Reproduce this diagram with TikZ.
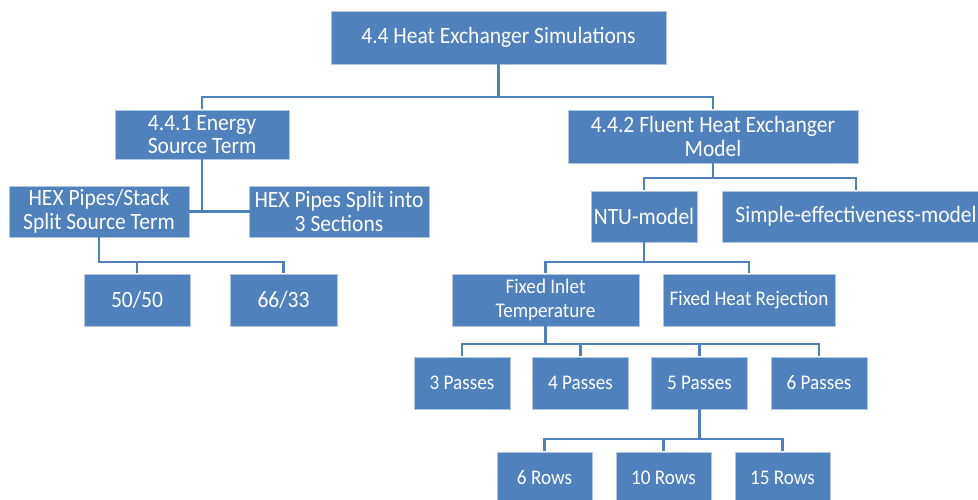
\documentclass[tikz,border=0pt]{standalone}
\usepackage{fontspec}
\setmainfont[FakeStretch=0.92]{Carlito}
\definecolor{boxblue}{HTML}{4F81BD}
\tikzset{
  box/.style={fill=boxblue, draw=boxblue!45!white, line width=0.8pt, text=white,
    inner sep=0pt, align=center, font=\fontsize{23.4}{23.5}\selectfont},
  smallbox/.style={box, font=\fontsize{20.8}{24}\selectfont},
  link/.style={draw=boxblue, line width=2.4pt, line cap=rect}
}
\begin{document}
\begin{tikzpicture}[x=1pt, y=-1pt]
  \useasboundingbox (0,0) rectangle (978,500);

  \node[box, minimum width=335, minimum height=53] (top) at (498.5, 37.5) {4.4 Heat Exchanger Simulations};
  \node[box, minimum width=174, minimum height=49] (e441) at (202, 134.5) {4.4.1 Energy\\Source Term};
  \node[box, minimum width=290, minimum height=53] (e442) at (713, 136.5) {4.4.2 Fluent Heat Exchanger\\Model};

  % energy source branch
  \node[box, minimum width=180, minimum height=51] (stack) at (99, 211.5) {HEX Pipes/Stack\\Split Source Term};
  \node[box, minimum width=180, minimum height=51] (split) at (339, 211.5) {HEX Pipes Split into\\3 Sections};
  \node[box, minimum width=106, minimum height=52] (r5050) at (137, 300) {50/50};
  \node[box, minimum width=107, minimum height=52] (r6633) at (283.5, 300) {66/33};

  % fluent branch
  \node[box, minimum width=106, minimum height=51] (ntu) at (644, 216.5) {NTU-model};
  \node[box, minimum width=268, minimum height=51] (simple) at (856, 216.5) {Simple-effectiveness-model};
  \node[smallbox, minimum width=187, minimum height=52] (inlet) at (545.5, 300) {Fixed Inlet\\Temperature};
  \node[smallbox, minimum width=172, minimum height=52] (reject) at (749, 300) {Fixed Heat Rejection};

  \foreach \n/\x in {3/462, 4/580.5, 5/699.5, 6/819}{
    \node[smallbox, minimum width=96, minimum height=52] (pass\n) at (\x, 383) {\n\ Passes};
  }
  \foreach \n/\x in {6/544.5, 10/663.5, 15/782.5}{
    \node[smallbox, minimum width=95, minimum height=52] (row\n) at (\x, 478) {\n\ Rows};
  }

  % buses
  \coordinate (bustop) at (498.5, 97);
  \coordinate (busstack) at (99, 262);
  \coordinate (busfluent) at (713, 178);
  \coordinate (busntu) at (644, 262);
  \coordinate (businlet) at (545.5, 344);
  \coordinate (buspass) at (699.5, 439);

  \draw[link] (top.south) -- (bustop) -| ([yshift=1.5]e441.north);
  \draw[link] (bustop) -| ([yshift=1.5]e442.north);

  \draw[link] (e441.south) -- (e441.south |- stack.east);
  \draw[link] (stack.east) -- (split.west);

  \draw[link] (stack.south) -- (busstack) -| ([yshift=1.5]r6633.north);
  \draw[link] ([yshift=1.5]r5050.north) -- (r5050.north |- busstack);

  \draw[link] (e442.south) -- (busfluent) -| ([yshift=1.5]simple.north);
  \draw[link] (busfluent) -| ([yshift=1.5]ntu.north);

  \draw[link] (ntu.south) -- (busntu) -| ([yshift=1.5]reject.north);
  \draw[link] (busntu) -| ([yshift=1.5]inlet.north);

  \draw[link] (inlet.south) -- (businlet) -| ([yshift=1.5]pass6.north);
  \draw[link] (businlet) -| ([yshift=1.5]pass3.north);
  \foreach \n in {4, 5}
    \draw[link] ([yshift=1.5]pass\n.north) -- (pass\n.north |- businlet);

  \draw[link] (pass5.south) -- (buspass) -| ([yshift=1.5]row15.north);
  \draw[link] (buspass) -| ([yshift=1.5]row6.north);
  \draw[link] ([yshift=1.5]row10.north) -- (row10.north |- buspass);
\end{tikzpicture}
\end{document}
